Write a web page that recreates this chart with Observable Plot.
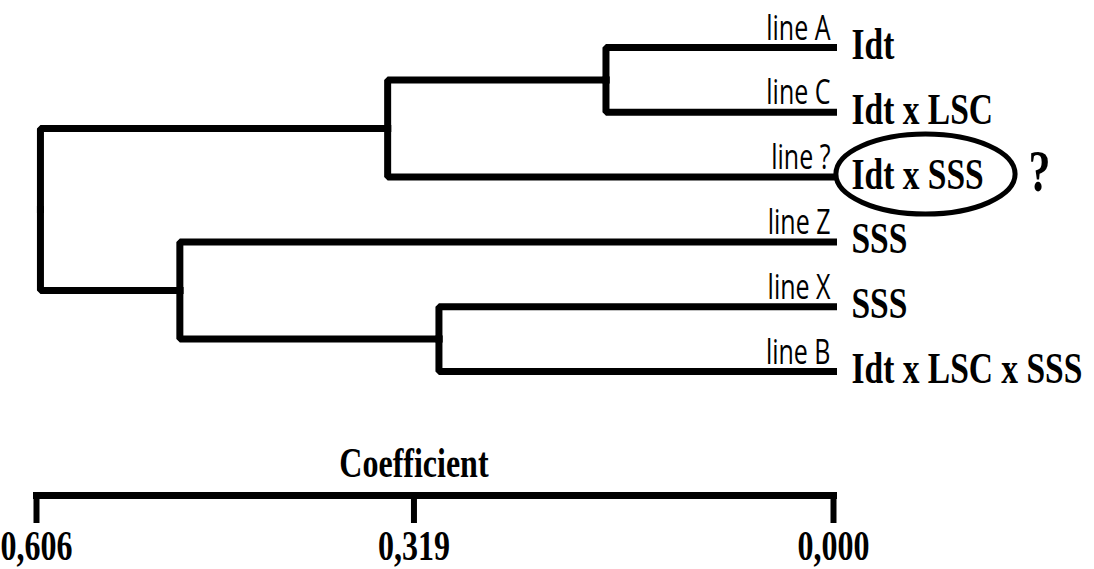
<!DOCTYPE html>
<html><head><meta charset="utf-8">
<script src="https://cdn.jsdelivr.net/npm/d3@7"></script>
<script src="https://cdn.jsdelivr.net/npm/@observablehq/plot@0.6"></script>
<style>html,body{margin:0;padding:0;background:#fff;} #chart svg{display:block;}</style>
</head><body><div id="chart"></div>
<script>
// Leaves (top to bottom)
const leafNames = ["line A", "line C", "line ?", "line Z", "line X", "line B"];
const leafGroups = ["Idt", "Idt x LSC", "Idt x SSS", "SSS", "SSS", "Idt x LSC x SSS"];
// Merge nodes (children listed before parents)
const mergeNames = ["AC", "ACQ", "XB", "ZXB", "root"];
const mergeCoef = [0.173, 0.339, 0.300, 0.497, 0.603];
const mergeLeft = ["line A", "AC", "line X", "line Z", "ACQ"];
const mergeRight = ["line C", "line ?", "line B", "XB", "ZXB"];
// Axis
const coefTicks = [0.606, 0.319, 0.000];
const axisTitle = "Coefficient";
const flagged = "line ?";
const flagMark = "?";

const rowOf = new Map(), coefOf = new Map();
leafNames.forEach((n, i) => { rowOf.set(n, i); coefOf.set(n, 0); });
mergeNames.forEach((n, i) => {
  rowOf.set(n, (rowOf.get(mergeLeft[i]) + rowOf.get(mergeRight[i])) / 2);
  coefOf.set(n, mergeCoef[i]);
});
const edges = [];
mergeNames.forEach((n, i) => {
  [mergeLeft[i], mergeRight[i]].forEach(c => {
    const id = n + "-" + c;
    edges.push({edge: id, coef: coefOf.get(c), row: rowOf.get(c)});
    edges.push({edge: id, coef: coefOf.get(n), row: rowOf.get(c)});
    edges.push({edge: id, coef: coefOf.get(n), row: rowOf.get(n)});
  });
});
const leaves = leafNames.map((n, i) => ({name: n, group: leafGroups[i], coef: 0, row: i}));
const flaggedLeaf = leaves.filter(d => d.name === flagged);

const ellipse = {
  draw(ctx, size) {
    const ry = Math.sqrt(size / Math.PI), rx = ry * 2.24, k = 0.5523;
    const kx = rx * k, ky = ry * k;
    ctx.moveTo(rx, 0);
    ctx.bezierCurveTo(rx, ky, kx, ry, 0, ry);
    ctx.bezierCurveTo(-kx, ry, -rx, ky, -rx, 0);
    ctx.bezierCurveTo(-rx, -ky, -kx, -ry, 0, -ry);
    ctx.bezierCurveTo(kx, -ry, rx, -ky, rx, 0);
    ctx.closePath();
  }
};

const serif = "'Liberation Serif', 'Times New Roman', serif";

const chart = Plot.plot({
  width: 1094, height: 569,
  marginLeft: 36, marginRight: 261, marginTop: 0, marginBottom: 74,
  x: {domain: [0.606, 0]},
  y: {domain: [0, 5], range: [47, 371], axis: null},
  style: {background: "#fff", color: "#000"},
  marks: [
    Plot.line(edges, {x: "coef", y: "row", z: "edge", stroke: "#000", strokeWidth: 7,
      strokeLinecap: "square", strokeLinejoin: "miter"}),
    Plot.text(leaves, {x: "coef", y: "row", text: "name", textAnchor: "end", lineAnchor: "bottom",
      dx: -3, dy: -8, fontFamily: "'Open Sans', sans-serif", fontSize: 25, fill: "#000"}),
    Plot.text(leaves, {x: "coef", y: "row", text: "group", textAnchor: "start", lineAnchor: "middle",
      dx: 18, dy: -3, fontFamily: serif, fontWeight: "bold", fontSize: 33.5, fill: "#000"}),
    Plot.dot(flaggedLeaf, {x: "coef", y: "row", r: 40, symbol: ellipse, dx: 92, dy: -3,
      stroke: "#000", strokeWidth: 5, fill: "none"}),
    Plot.text(flaggedLeaf, {x: "coef", y: "row", text: () => flagMark, textAnchor: "middle", lineAnchor: "middle",
      dx: 206, dy: -5, fontFamily: serif, fontWeight: "bold", fontSize: 44, fill: "#000"}),
    Plot.frame({anchor: "bottom", strokeWidth: 7}),
    Plot.axisX({ticks: coefTicks, tickFormat: d => d.toFixed(3).replace(".", ","), tickSize: 28, tickPadding: 6,
      strokeWidth: 6, fontSize: 32, fontWeight: "bold", fontFamily: serif, label: null}),
    Plot.text([axisTitle], {x: () => coefTicks[1], frameAnchor: "bottom", text: d => d, textAnchor: "middle",
      lineAnchor: "bottom", dy: -19, fontFamily: serif, fontWeight: "bold", fontSize: 32, fill: "#000"})
  ]
});
chart.querySelectorAll("text").forEach(t => {
  const tr = t.getAttribute("transform") || "";
  t.setAttribute("transform", tr + " scale(1,1.35)");
});
document.getElementById("chart").appendChild(chart);
</script>
</body></html>
